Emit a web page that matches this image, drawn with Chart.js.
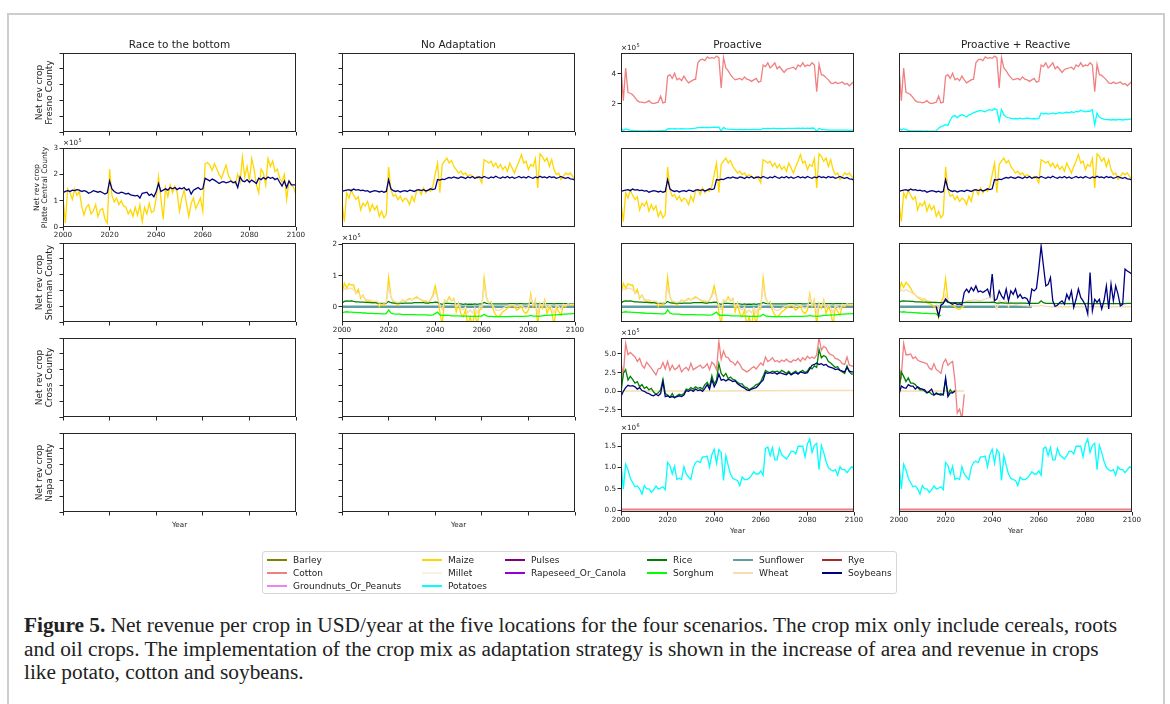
<!DOCTYPE html>
<html><head><meta charset="utf-8">
<script src="https://cdn.jsdelivr.net/npm/chart.js@4.4.1/dist/chart.umd.min.js"></script>
<style>
html,body{margin:0;padding:0;background:#fff;width:1170px;height:704px;overflow:hidden;position:relative;font-family:'DejaVu Sans',sans-serif;}
#frame{position:absolute;left:7px;top:13px;width:1158px;height:720px;border:2px solid #cdcdcd;box-sizing:border-box;}
.ctitle{position:absolute;top:37px;width:233px;text-align:center;font-size:10.5px;color:#222;line-height:14px;white-space:nowrap;}
#legend{position:absolute;left:262px;top:551px;width:635px;height:43px;border:1px solid #d6d6d6;border-radius:3px;box-sizing:border-box;}
.li{position:absolute;height:12px;font-size:9px;color:#222;line-height:12px;white-space:nowrap;}
.li i{position:absolute;left:0;top:5px;width:20px;height:2px;}
.li span{position:absolute;left:26px;top:0;}
#caption{position:absolute;left:24px;top:614px;font-family:'Liberation Serif',serif;font-size:17.5px;line-height:23.5px;color:#222;white-space:nowrap;}
canvas{position:absolute;}
</style></head><body>
<div id="frame"></div>
<div id="legend"></div>
<div id="caption"><div id="cap1"><b>Figure 5.</b> Net revenue per crop in USD/year at the five locations for the four scenarios. The crop mix only include cereals, roots</div><div>and oil crops. The implementation of the crop mix as adaptation strategy is shown in the increase of area and revenue in crops</div><div>like potato, cotton and soybeans.</div></div>
<script>
// ---------- categories / labels ----------
const SCENARIOS = ['Race to the bottom', 'No Adaptation', 'Proactive', 'Proactive + Reactive'];
const COUNTIES = ['Fresno County', 'Platte Central County', 'Sherman County', 'Cross County', 'Napa County'];
const CROPS = ['Barley','Cotton','Groundnuts_Or_Peanuts','Maize','Millet','Potatoes','Pulses','Rapeseed_Or_Canola','Rice','Sorghum','Sunflower','Wheat','Rye','Soybeans'];
const CROP_COLORS = ['#808000','#f08080','#ee82ee','#ffd700','#faf0e6','#00ffff','#800080','#9400d3','#008000','#00ff00','#5f9ea0','#f5deb3','#a52a2a','#000080'];
const X_TICKS = [2000, 2020, 2040, 2060, 2080, 2100];
const EMPTY_Y_TICKS = [0, 0.2, 0.4, 0.6, 0.8, 1.0];
const FRESNO_Y_TICKS = [2, 4], FRESNO_Y_LABELS = ['2', '4'];
const PLATTE_Y_TICKS = [0, 1, 2, 3], PLATTE_Y_LABELS = ['0', '1', '2', '3'];
const SHERMAN_Y_TICKS = [0, 1, 2], SHERMAN_Y_LABELS = ['0', '1', '2'];
const CROSS_Y_TICKS = [-2.5, 0, 2.5, 5], CROSS_Y_LABELS = ['\u22122.5', '0.0', '2.5', '5.0'];
const NAPA_Y_TICKS = [0, 0.5, 1, 1.5], NAPA_Y_LABELS = ['0.0', '0.5', '1.0', '1.5'];

// ---------- series values (yearly from start year; units x1e5 USD, Napa x1e6 USD) ----------
const FRESNO_COTTON = [4.5,2.2,4.4,2.75,2.7,2.6,2.4,2.2,2.1,2.1,
 2.05,2.1,2.2,2.05,2.0,2.05,2.1,2.5,2.05,2.1,
 3.85,3.95,3.7,4.05,3.6,3.7,3.55,3.85,3.6,3.4,
 3.5,3.6,3.65,4.75,4.95,5.0,4.9,5.15,5.05,5.1,
 5.05,5.2,5.1,3.05,5.1,4.4,4.2,3.95,3.75,3.6,
 3.65,3.7,3.6,3.8,3.65,3.6,3.5,3.6,3.7,3.45,
 3.5,4.6,4.5,4.75,4.4,4.55,4.75,4.35,4.5,4.3,
 4.1,4.3,4.35,4.4,4.45,4.3,4.6,4.5,4.75,4.5,
 4.6,4.55,4.75,4.6,2.8,4.65,3.95,3.9,3.75,3.6,
 3.4,3.35,3.45,3.35,3.4,3.45,3.3,3.35,3.2,3.35,3.5];
const FRESNO_POTATOES_PRO = [0.35,0.2,0.3,0.25,0.2,0.2,0.18,0.18,0.17,0.17,
 0.17,0.17,0.18,0.17,0.17,0.17,0.17,0.18,0.18,0.17,
 0.3,0.32,0.3,0.32,0.3,0.3,0.32,0.3,0.3,0.3,
 0.32,0.33,0.35,0.38,0.38,0.4,0.38,0.4,0.38,0.4,
 0.42,0.4,0.42,0.15,0.4,0.3,0.28,0.27,0.26,0.25,
 0.25,0.26,0.25,0.26,0.25,0.25,0.25,0.26,0.25,0.25,
 0.25,0.33,0.32,0.34,0.32,0.33,0.34,0.32,0.33,0.32,
 0.32,0.33,0.33,0.34,0.33,0.34,0.35,0.34,0.35,0.34,
 0.35,0.34,0.36,0.34,0.12,0.34,0.25,0.25,0.24,0.22,
 0.22,0.21,0.22,0.21,0.22,0.22,0.21,0.21,0.2,0.21,0.21];
const FRESNO_POTATOES_REACT = [0.35,0.22,0.3,0.25,0.2,0.18,0.17,0.17,0.16,0.16,
 0.16,0.15,0.16,0.15,0.15,0.15,0.17,0.35,0.45,0.5,
 0.6,0.52,0.9,1.15,1.2,1.05,1.2,1.25,1.2,1.1,
 1.25,1.3,1.4,1.45,1.5,1.55,1.5,1.45,1.55,1.6,
 1.55,1.65,1.6,0.8,1.6,1.25,1.1,1.05,1.0,0.98,
 1.0,0.97,1.02,0.98,1.0,1.03,1.0,0.98,1.0,0.97,
 1.0,1.37,1.3,1.35,1.3,1.32,1.38,1.32,1.35,1.4,
 1.35,1.4,1.42,1.38,1.45,1.4,1.48,1.45,1.55,1.5,
 1.45,1.5,1.48,1.6,0.58,1.37,1.1,1.0,0.95,0.92,
 0.92,0.9,0.93,0.9,0.92,0.93,0.9,0.92,0.93,0.95,0.97];

const PLATTE_MAIZE_RTB = [1.1,0.15,1.45,1.3,1.05,1.45,1.2,1.35,0.8,0.45,
 0.75,0.85,0.5,0.6,0.85,0.4,0.65,0.7,0.3,0.15,
 2.2,1.2,0.95,1.1,0.85,1.0,0.8,0.75,0.5,0.65,
 0.4,0.75,0.45,0.85,0.2,0.75,0.5,0.9,0.55,0.6,
 1.1,1.9,1.1,0.3,1.5,1.15,1.6,1.3,1.55,1.3,
 0.6,1.1,1.4,0.9,0.4,0.9,1.1,0.7,0.9,1.1,
 0.6,2.4,2.45,2.35,2.15,2.4,2.2,2.0,1.85,2.1,
 2.35,1.95,1.8,1.7,1.65,2.0,1.7,2.65,1.9,2.3,
 1.75,2.6,2.2,1.6,1.3,2.2,2.05,1.6,2.6,2.3,
 2.5,2.1,2.2,1.85,1.7,2.0,1.05,1.75,1.6,1.5,1.2];
const PLATTE_SOY_RTB = [1.3,1.35,1.38,1.35,1.4,1.38,1.42,1.4,1.35,1.38,
 1.35,1.28,1.32,1.38,1.35,1.32,1.35,1.3,1.25,1.3,
 1.75,1.45,1.35,1.3,1.28,1.32,1.3,1.25,1.28,1.22,
 1.2,1.18,1.2,1.1,1.28,1.3,1.32,1.2,1.25,1.15,
 1.35,1.65,1.35,1.4,1.45,1.4,1.5,1.45,1.5,1.42,
 1.48,1.45,1.5,1.4,1.45,1.25,1.4,1.45,1.5,1.42,
 1.45,1.85,1.8,1.75,1.82,1.78,1.72,1.65,1.7,1.72,
 1.68,1.7,1.75,1.68,1.72,1.5,1.9,1.75,1.72,1.8,
 1.7,1.78,1.72,1.65,1.85,1.8,1.88,1.82,1.9,1.85,
 1.88,1.8,1.85,1.7,1.55,1.75,1.5,1.75,1.6,1.6,1.6];
const PLATTE_MAIZE = [0.95,0.2,1.3,1.1,1.4,1.2,1.05,1.15,0.65,0.9,
 0.8,0.97,0.6,0.85,0.65,0.8,0.4,0.6,0.35,0.47,
 2.28,1.42,1.17,1.23,1.04,1.17,0.97,1.1,1.04,0.85,
 1.17,0.97,1.36,1.42,1.23,1.48,1.3,1.42,1.36,1.55,
 2.0,2.43,1.3,2.37,2.5,2.62,2.43,2.53,2.3,2.18,
 2.05,2.12,1.99,2.05,1.92,1.99,1.92,1.85,1.92,1.85,
 1.67,2.56,2.5,2.43,2.5,2.3,2.43,2.24,2.37,2.18,
 2.3,2.11,2.43,2.24,2.05,2.3,2.5,2.75,2.43,2.5,
 2.18,2.37,2.3,2.6,1.48,2.78,2.68,2.5,2.62,2.3,
 2.56,2.18,1.99,2.05,1.8,1.92,2.05,1.99,2.05,1.92,1.8];
const PLATTE_SOY = [1.35,1.38,1.4,1.42,1.38,1.44,1.4,1.42,1.38,1.4,
 1.36,1.38,1.32,1.35,1.38,1.36,1.33,1.36,1.32,1.35,
 1.8,1.45,1.38,1.35,1.38,1.33,1.36,1.38,1.35,1.4,
 1.38,1.35,1.4,1.42,1.38,1.42,1.37,1.4,1.45,1.42,
 1.45,1.8,1.78,1.82,1.8,1.85,1.88,1.86,1.9,1.87,
 1.85,1.9,1.88,1.84,1.9,1.87,1.92,1.85,1.88,1.9,
 1.86,1.92,1.88,1.85,1.9,1.87,1.93,1.88,1.85,1.9,
 1.87,1.92,1.86,1.9,1.85,1.88,1.92,1.87,1.9,1.86,
 1.92,1.88,1.85,1.9,1.87,1.93,1.88,1.9,1.86,1.92,
 1.88,1.9,1.85,1.88,1.92,1.87,1.85,1.88,1.83,1.82,1.78];

const SHERMAN_MAIZE = [0.43,0.76,0.6,0.74,0.7,0.7,0.43,0.56,0.27,0.38,
 0.22,0.16,0.19,0.11,0.13,0.16,0.0,0.11,0.05,0.11,
 0.94,0.32,0.16,0.11,0.05,0.13,0.22,0.16,0.22,0.27,
 0.22,0.27,0.32,0.27,0.22,0.16,0.19,0.11,0.22,0.38,
 0.67,0.32,-0.16,-0.6,0.22,0.16,0.32,0.19,0.27,-0.16,
 0.11,-0.22,-0.32,-0.11,-0.6,-0.32,-0.6,-0.16,-0.6,-0.11,
 -0.05,0.92,0.32,0.11,0.16,-0.11,-0.27,-0.32,-0.27,-0.16,
 -0.11,-0.05,0.0,0.05,0.0,-0.11,-0.05,0.0,-0.16,-0.22,
 -0.11,0.41,0.0,0.22,-0.6,0.11,-0.05,0.22,-0.22,0.0,
 -0.16,-0.6,0.0,-0.16,-0.27,0.05,0.0,0.11,0.05,0.05,0.05];
const SHERMAN_WHEAT = [0.45,0.6,0.55,0.6,0.58,0.55,0.45,0.45,0.32,0.35,
 0.25,0.22,0.22,0.18,0.18,0.18,0.12,0.15,0.12,0.14,
 0.65,0.3,0.2,0.16,0.14,0.16,0.2,0.18,0.2,0.24,
 0.22,0.25,0.28,0.26,0.24,0.2,0.2,0.16,0.22,0.32,
 0.5,0.3,0.05,-0.1,0.2,0.18,0.26,0.2,0.24,0.0,
 0.1,-0.05,-0.1,0.0,-0.2,-0.1,-0.2,-0.02,-0.2,0.0,
 0.0,0.7,0.28,0.12,0.14,0.0,-0.1,-0.12,-0.1,-0.05,
 0.0,0.02,0.05,0.07,0.05,0.0,0.02,0.05,-0.02,-0.05,
 0.0,0.32,0.05,0.18,-0.2,0.1,0.02,0.18,-0.05,0.05,
 -0.02,-0.2,0.05,0.0,-0.08,0.08,0.05,0.1,0.08,0.08,0.08];
const SHERMAN_RICE = [0.12,0.17,0.19,0.18,0.19,0.17,0.16,0.16,0.15,0.15,
 0.14,0.14,0.13,0.13,0.13,0.12,0.12,0.12,0.12,0.12,
 0.17,0.13,0.12,0.12,0.12,0.12,0.11,0.12,0.12,0.12,
 0.12,0.13,0.13,0.13,0.13,0.13,0.12,0.12,0.13,0.13,
 0.15,0.14,0.1,0.08,0.11,0.11,0.11,0.1,0.1,0.09,
 0.09,0.09,0.08,0.09,0.08,0.08,0.08,0.09,0.08,0.09,
 0.09,0.14,0.11,0.1,0.1,0.09,0.09,0.09,0.09,0.09,
 0.09,0.09,0.1,0.1,0.1,0.09,0.1,0.1,0.09,0.09,
 0.1,0.12,0.1,0.11,0.09,0.1,0.1,0.11,0.1,0.1,
 0.1,0.09,0.1,0.1,0.1,0.1,0.1,0.1,0.1,0.1,0.1];
const SHERMAN_SORGHUM = [-0.2,-0.17,-0.16,-0.17,-0.17,-0.18,-0.18,-0.19,-0.19,-0.2,
 -0.2,-0.21,-0.21,-0.21,-0.22,-0.22,-0.22,-0.23,-0.23,-0.22,
 -0.1,-0.2,-0.23,-0.24,-0.24,-0.24,-0.25,-0.25,-0.25,-0.25,
 -0.25,-0.25,-0.26,-0.26,-0.26,-0.26,-0.26,-0.27,-0.27,-0.26,
 -0.22,-0.17,-0.26,-0.28,-0.27,-0.28,-0.28,-0.29,-0.29,-0.29,
 -0.29,-0.3,-0.3,-0.3,-0.3,-0.31,-0.31,-0.31,-0.31,-0.3,
 -0.3,-0.24,-0.29,-0.31,-0.31,-0.32,-0.32,-0.32,-0.32,-0.32,
 -0.32,-0.32,-0.32,-0.31,-0.31,-0.31,-0.31,-0.31,-0.31,-0.3,
 -0.3,-0.28,-0.3,-0.3,-0.31,-0.3,-0.29,-0.28,-0.28,-0.27,
 -0.27,-0.26,-0.26,-0.25,-0.25,-0.24,-0.24,-0.23,-0.23,-0.22,-0.22];
const SHERMAN_MAIZE_REACT = [0.45,0.78,0.62,0.78,0.7,0.6,0.45,0.38,0.3,0.25,
 0.2,0.25,0.12,0.1,0.08,0.0,-0.05,-0.35,0.15,0.3,
 0.9,0.2,0.12,0.05,0.0,-0.07,-0.08,-0.02,0.03];
const SHERMAN_WHEAT_REACT = [0.45,0.55,0.5,0.55,0.5,0.48,0.42,0.38,0.32,0.3,
 0.25,0.26,0.2,0.18,0.16,0.12,0.1,-0.05,0.1,0.18,
 0.4,0.18,0.14,0.12,0.1,0.08,0.1,0.12,0.14,0.18,
 0.2,0.2,0.22,0.22,0.2,0.2,0.22,0.25,0.28,0.3,
 0.38,0.1,-0.08,0.2,0.12,0.15,0.18,0.0,0.15,0.1,
 0.08,0.06,0.05,0.04,0.04,0.03,0.03,0.02,0.02,0.02,
 0.02,0.05,0.02,0.01,0.01,0.0,0.0,0.0,0.0,0.0,
 0.0,0.0,0.0,0.0,0.0,0.0,0.0,0.0,0.0,0.0,
 0.0,0.0,0.0,0.0,0.0,0.0,0.0,0.0,0.0,0.0,
 0.0,0.0,0.0,0.0,0.0,0.0,0.0,0.0,0.0,0.0,0.0];
const SHERMAN_RICE_REACT = [0.15,0.18,0.19,0.18,0.18,0.17,0.17,0.16,0.16,0.16,
 0.15,0.15,0.15,0.14,0.14,0.14,0.14,0.13,0.13,0.13,
 0.2,0.14,0.13,0.13,0.13,0.13,0.13,0.13,0.13,0.14,
 0.14,0.14,0.14,0.14,0.14,0.14,0.14,0.14,0.14,0.14,
 0.15,0.14,0.12,0.12,0.13,0.12,0.12,0.12,0.12,0.12,
 0.12,0.12,0.12,0.12,0.12,0.11,0.11,0.11,0.11,0.11,
 0.12,0.19,0.13,0.11,0.11,0.11,0.11,0.1,0.1,0.1,
 0.1,0.1,0.1,0.1,0.1,0.1,0.1,0.1,0.1,0.1,
 0.1,0.11,0.1,0.1,0.1,0.1,0.1,0.1,0.1,0.1,
 0.1,0.1,0.1,0.1,0.1,0.1,0.1,0.1,0.11,0.11,0.1];
const SHERMAN_SORGHUM_REACT = [-0.15,-0.17,-0.16,-0.17,-0.18,-0.18,-0.19,-0.19,-0.2,-0.2,
 -0.21,-0.21,-0.21,-0.22,-0.22,-0.22,-0.23,-0.3,-0.28];
const SHERMAN_SOY_REACT_START = 2016;
const SHERMAN_SOY_REACT = [0.0,-0.3,0.05,0.1,
 0.25,0.16,0.12,0.08,0.12,0.08,0.09,0.06,0.46,0.57,
 0.46,0.62,0.51,0.67,0.48,0.51,0.46,0.51,0.57,0.35,
 1.05,0.19,0.25,0.51,0.35,0.25,0.57,0.19,0.51,0.4,
 0.57,0.3,0.4,0.27,0.3,0.25,0.08,0.57,0.51,0.59,
 1.21,1.95,1.31,0.67,0.72,0.94,0.19,0.01,0.05,0.14,
 0.19,0.08,0.4,0.24,0.5,-0.02,0.24,0.57,0.3,0.19,
 0.05,-0.23,1.1,-0.13,0.24,0.14,0.24,-0.07,0.2,0.67,
 -0.07,0.73,0.19,0.67,0.4,0.03,0.08,1.21,1.15,1.1,1.05];
const FULL_SPAN_YEARS = [2000, 2100];
const ZERO_FULL = [0, 0];
const SHERMAN_SUNFLOWER_REACT_YEARS = [2000, 2057];
const SHERMAN_SUNFLOWER_REACT = [0, 0];

const CROSS_COTTON = [3.76,2.2,6.4,4.9,5.2,4.9,4.6,4.0,4.4,3.5,
 3.1,3.9,3.5,3.1,2.65,2.2,3.0,3.1,3.85,3.0,
 4.0,2.8,3.5,2.9,3.1,3.5,2.6,3.0,3.2,2.8,
 3.75,2.9,3.1,3.3,3.5,3.1,3.3,3.7,2.9,3.9,
 3.6,2.9,6.7,4.3,5.4,4.6,4.5,4.0,3.9,3.5,
 4.0,3.6,3.0,2.8,2.6,2.8,3.1,3.3,3.0,3.4,
 3.8,3.5,4.6,4.0,4.2,4.5,4.0,4.1,3.9,4.2,
 4.0,4.3,4.0,3.9,4.2,4.1,4.4,4.0,4.5,4.2,
 4.7,4.4,4.6,4.4,4.9,7.2,5.5,6.0,5.8,5.2,
 4.9,4.8,4.4,4.3,4.1,3.7,3.6,4.6,3.5,3.4,3.3];
const CROSS_RICE = [-0.2,2.4,2.9,1.5,2.0,1.6,1.1,1.3,0.6,0.9,
 0.4,0.6,0.2,0.4,-0.1,-0.4,-0.2,0.2,1.6,-0.3,
 -0.5,-0.8,-0.3,-0.9,-0.6,-0.4,-0.5,-0.3,0.3,0.2,
 0.5,0.3,0.6,0.4,0.5,0.3,0.9,1.2,0.6,2.1,
 1.0,1.5,3.7,2.4,2.0,2.4,1.7,1.9,1.6,1.5,
 1.2,1.0,1.0,0.6,0.5,0.2,0.4,0.6,0.9,1.0,
 1.3,2.0,2.8,2.6,2.5,2.7,2.6,2.7,2.5,2.8,
 2.6,2.4,2.7,2.3,2.5,2.7,2.4,2.6,2.8,2.5,
 2.7,3.2,3.0,3.4,3.2,5.6,4.5,4.8,4.6,4.0,
 3.8,3.5,3.2,3.3,2.8,2.6,2.4,3.4,2.6,2.3,2.3];
const CROSS_SOY = [-0.7,0.0,0.5,0.8,0.7,0.75,0.6,0.3,0.5,0.1,
 0.0,-0.2,-0.3,-0.5,-0.6,-0.4,-0.6,-0.3,1.3,-0.7,
 -0.6,-0.8,-0.7,-0.8,-0.7,-0.6,-0.7,-0.5,0.1,0.0,
 0.2,0.0,0.3,0.1,0.2,0.0,0.4,0.9,0.3,1.6,
 0.6,1.2,2.3,1.5,1.6,1.4,1.6,1.5,1.3,1.4,
 1.0,0.8,0.6,0.4,0.2,0.1,0.3,0.4,0.5,0.8,
 1.2,1.5,2.5,2.4,2.5,2.4,2.5,2.3,2.5,2.4,
 2.3,2.2,2.5,2.2,2.4,2.5,2.3,2.6,2.5,2.4,
 2.5,3.0,3.5,3.6,3.8,3.6,3.7,3.5,3.6,3.3,
 3.2,3.1,2.9,3.0,2.8,2.7,2.6,3.2,2.7,2.6,2.6];
const CROSS_WHEAT_YEARS = [2000, 2040, 2060, 2080, 2100];
const CROSS_WHEAT = [0.05, 0.05, 0.08, 0.1, 0.1];
const CROSS_COTTON_REACT = [3.3,2.0,6.4,4.9,4.9,5.0,4.4,4.6,4.2,4.0,
 3.9,3.8,3.7,3.1,2.9,3.7,2.9,2.7,2.4,3.8,
 4.3,3.5,3.8,4.0,1.5,-2.9,-2.4,-3.7,-0.4];
const CROSS_RICE_REACT = [-0.2,2.6,2.0,1.3,1.8,1.1,1.1,0.9,0.5,0.2,
 0.2,0.0,-0.2,-0.1,-0.4,-0.5,-0.2,-0.4,-0.3,-0.5,
 1.5,-0.4,0.2,-0.2,0.1];
const CROSS_SOY_REACT = [-0.4,0.7,0.5,0.4,0.9,0.7,0.7,0.3,0.6,0.4,
 0.3,0.2,-0.2,0.0,0.3,-0.5,-0.3,-0.4,-0.5,-0.4,
 1.8,-0.7,-0.2,-0.2,0.0];
const CROSS_WHEAT_REACT_YEARS = [2000, 2028];
const CROSS_WHEAT_REACT = [0.05, 0.05];

const NAPA_POTATOES = [1.1,0.5,1.08,0.95,0.75,0.65,0.55,0.57,0.5,0.38,
 0.58,0.5,0.5,0.42,0.48,0.57,0.5,0.52,0.55,0.48,
 1.12,1.05,0.85,1.03,0.72,0.75,0.72,1.02,0.85,0.78,
 0.72,1.0,1.12,1.15,1.12,1.25,1.25,1.27,1.02,1.3,
 1.43,1.1,1.42,1.35,0.7,1.28,1.05,0.85,0.75,0.72,
 0.7,0.58,0.78,0.72,0.72,0.75,0.82,0.9,0.85,0.85,
 0.92,0.82,1.45,1.48,1.28,1.47,1.18,1.18,1.45,1.3,
 1.25,1.2,1.28,1.38,1.38,1.32,1.5,1.5,1.5,1.25,
 1.55,1.67,1.35,1.52,1.57,0.95,1.52,1.35,1.15,1.0,
 0.95,0.92,0.95,0.82,1.02,0.95,0.95,0.88,0.95,1.02,0.97];
const NAPA_COTTON = [0.02, 0.02];

// ---------- helpers ----------
const colorOf = crop => CROP_COLORS[CROPS.indexOf(crop)];
function yearly(crop, values, start, width) {
  const s = start || 2000;
  return { crop, width: width || 1.3, points: values.map((v, i) => ({ x: s + i, y: v })) };
}
function sparse(crop, years, values, width) {
  return { crop, width: width || 1.3, points: years.map((x, i) => ({ x, y: values[i] })) };
}

const Y_EMPTY = { min: 0, max: 1, ticks: EMPTY_Y_TICKS, labels: null };
const Y_FRESNO = { min: 0.09, max: 5.41, ticks: FRESNO_Y_TICKS, labels: FRESNO_Y_LABELS };
const Y_PLATTE = { min: 0, max: 3, ticks: PLATTE_Y_TICKS, labels: PLATTE_Y_LABELS };
const Y_SHERMAN = { min: -0.49, max: 2.05, ticks: SHERMAN_Y_TICKS, labels: SHERMAN_Y_LABELS };
const Y_CROSS = { min: -3.44, max: 7.14, ticks: CROSS_Y_TICKS, labels: CROSS_Y_LABELS };
const Y_NAPA = { min: -0.04, max: 1.81, ticks: NAPA_Y_TICKS, labels: NAPA_Y_LABELS };

const E = (r, c) => ({ r, c, y: Y_EMPTY, yShow: 'marks', xShow: 'marks', series: [] });
const platteNA = () => [sparse('Sunflower', FULL_SPAN_YEARS, ZERO_FULL, 1.5), yearly('Maize', PLATTE_MAIZE), yearly('Soybeans', PLATTE_SOY)];
const shermanNA = () => [sparse('Soybeans', FULL_SPAN_YEARS, ZERO_FULL, 1), sparse('Sunflower', FULL_SPAN_YEARS, ZERO_FULL, 2.4),
  yearly('Maize', SHERMAN_MAIZE), yearly('Rice', SHERMAN_RICE), yearly('Sorghum', SHERMAN_SORGHUM), yearly('Wheat', SHERMAN_WHEAT)];
const napa = () => [sparse('Cotton', FULL_SPAN_YEARS, NAPA_COTTON, 2), yearly('Potatoes', NAPA_POTATOES)];

const PANELS = [
  E(0, 0), E(0, 1),
  { r: 0, c: 2, y: Y_FRESNO, yShow: 'labels', xShow: 'none', mult: '5', series: [yearly('Cotton', FRESNO_COTTON), yearly('Potatoes', FRESNO_POTATOES_PRO)] },
  { r: 0, c: 3, y: Y_FRESNO, yShow: 'none', xShow: 'none', series: [yearly('Cotton', FRESNO_COTTON), yearly('Potatoes', FRESNO_POTATOES_REACT)] },
  { r: 1, c: 0, y: Y_PLATTE, yShow: 'labels', xShow: 'labels', mult: '5', series: [sparse('Sunflower', FULL_SPAN_YEARS, ZERO_FULL, 1.5), yearly('Maize', PLATTE_MAIZE_RTB), yearly('Soybeans', PLATTE_SOY_RTB)] },
  { r: 1, c: 1, y: Y_PLATTE, yShow: 'none', xShow: 'none', series: platteNA() },
  { r: 1, c: 2, y: Y_PLATTE, yShow: 'none', xShow: 'none', series: platteNA() },
  { r: 1, c: 3, y: Y_PLATTE, yShow: 'none', xShow: 'none', series: platteNA() },
  E(2, 0),
  { r: 2, c: 1, y: Y_SHERMAN, yShow: 'labels', xShow: 'labels', mult: '5', series: shermanNA() },
  { r: 2, c: 2, y: Y_SHERMAN, yShow: 'none', xShow: 'none', series: shermanNA() },
  { r: 2, c: 3, y: Y_SHERMAN, yShow: 'none', xShow: 'none', series: [
    sparse('Sunflower', SHERMAN_SUNFLOWER_REACT_YEARS, SHERMAN_SUNFLOWER_REACT, 2.4),
    yearly('Maize', SHERMAN_MAIZE_REACT), yearly('Sorghum', SHERMAN_SORGHUM_REACT), yearly('Wheat', SHERMAN_WHEAT_REACT),
    yearly('Rice', SHERMAN_RICE_REACT), yearly('Soybeans', SHERMAN_SOY_REACT, SHERMAN_SOY_REACT_START)] },
  E(3, 0), E(3, 1),
  { r: 3, c: 2, y: Y_CROSS, yShow: 'labels', xShow: 'none', mult: '5', series: [
    sparse('Wheat', CROSS_WHEAT_YEARS, CROSS_WHEAT, 1.5), yearly('Cotton', CROSS_COTTON), yearly('Rice', CROSS_RICE), yearly('Soybeans', CROSS_SOY)] },
  { r: 3, c: 3, y: Y_CROSS, yShow: 'none', xShow: 'none', series: [
    sparse('Wheat', CROSS_WHEAT_REACT_YEARS, CROSS_WHEAT_REACT, 1.5), yearly('Cotton', CROSS_COTTON_REACT), yearly('Rice', CROSS_RICE_REACT), yearly('Soybeans', CROSS_SOY_REACT)] },
  E(4, 0), E(4, 1),
  { r: 4, c: 2, y: Y_NAPA, yShow: 'labels', xShow: 'labels', mult: '6', series: napa() },
  { r: 4, c: 3, y: Y_NAPA, yShow: 'none', xShow: 'labels', series: napa() },
];

// ---------- layout ----------
const COL_LEFT = [63, 342, 621, 899], ROW_TOP = [53, 148, 243, 338, 433];
const PW = 233, PH = 79, TP = 14, RW = 12;
const TXT = '#222', FONT = "'DejaVu Sans', sans-serif";
Chart.defaults.font.family = FONT;
Chart.defaults.color = TXT;

const framePlugin = {
  id: 'frameBox',
  afterDraw(chart) {
    const { ctx, chartArea: a } = chart;
    ctx.save();
    ctx.strokeStyle = '#262626'; ctx.lineWidth = 1;
    ctx.strokeRect(Math.round(a.left) + 0.5, Math.round(a.top) + 0.5, Math.round(a.right - a.left) - 1, Math.round(a.bottom - a.top) - 1);
    ctx.restore();
  }
};
const multPlugin = {
  id: 'mult',
  afterDraw(chart, args, opts) {
    if (!opts || !opts.exp) return;
    const { ctx, chartArea: a } = chart;
    ctx.save();
    ctx.fillStyle = TXT; ctx.textBaseline = 'alphabetic';
    ctx.font = "7.2px 'DejaVu Sans'";
    ctx.fillText('\u00d710', a.left, a.top - 3);
    const w = ctx.measureText('\u00d710').width;
    ctx.font = "5px 'DejaVu Sans'";
    ctx.fillText(opts.exp, a.left + w + 0.3, a.top - 6.5);
    ctx.restore();
  }
};

function makePanel(p) {
  const Lw = p.c === 0 ? 63 : 40;
  const Bh = p.r === 4 ? 28 : 16;
  const W = Lw + PW + RW, H = TP + PH + Bh;
  const cv = document.createElement('canvas');
  cv.width = W; cv.height = H;
  cv.style.left = (COL_LEFT[p.c] - Lw) + 'px';
  cv.style.top = (ROW_TOP[p.r] - TP) + 'px';
  cv.style.width = W + 'px'; cv.style.height = H + 'px';
  document.body.appendChild(cv);

  const datasets = p.series.map(s => ({
    label: s.crop, data: s.points, borderColor: colorOf(s.crop), backgroundColor: colorOf(s.crop),
    borderWidth: s.width, pointRadius: 0, tension: 0, fill: false
  })).reverse();

  const smallRow = p.r === 1;
  const yTitle = p.c === 0 ? {
    display: true, text: ['Net rev crop', COUNTIES[p.r]], color: TXT,
    font: { size: smallRow ? 7.6 : 9, lineHeight: smallRow ? 1.0 : 1.11 },
    padding: { top: smallRow ? 33.2 : 34.5, bottom: 0 }
  } : { display: false };

  new Chart(cv, {
    type: 'line',
    data: { datasets },
    plugins: [framePlugin, multPlugin],
    options: {
      responsive: false, animation: false, devicePixelRatio: 1,
      layout: { padding: { top: TP, right: RW, left: 0, bottom: 0 } },
      plugins: { legend: { display: false }, tooltip: { enabled: false }, title: { display: false }, mult: { exp: p.mult || null } },
      scales: {
        x: {
          type: 'linear', min: 2000, max: 2100,
          afterFit: s => { s.height = Bh; },
          afterBuildTicks: s => { s.ticks = X_TICKS.map(v => ({ value: v })); },
          ticks: { display: p.xShow === 'labels', autoSkip: false, maxRotation: 0, padding: 0.5, font: { size: 7.2 }, color: TXT, callback: v => String(v) },
          grid: { display: p.xShow !== 'none', drawOnChartArea: false, drawTicks: true, tickLength: 3.5, tickColor: '#262626', lineWidth: 1 },
          border: { display: false },
          title: { display: p.r === 4, text: 'Year', color: TXT, font: { size: 7.2, lineHeight: 1.2 }, padding: { top: 0, bottom: p.xShow === 'labels' ? 4.2 : 10.7 } }
        },
        y: {
          type: 'linear', min: p.y.min, max: p.y.max,
          afterFit: s => { s.width = Lw; },
          afterBuildTicks: s => { s.ticks = p.y.ticks.map(v => ({ value: v })); },
          ticks: { display: p.yShow === 'labels', autoSkip: false, padding: 1.5, font: { size: 7.2 }, color: TXT,
            callback: (v, i) => (p.y.labels ? p.y.labels[i] : '') },
          grid: { display: p.yShow !== 'none', drawOnChartArea: false, drawTicks: true, tickLength: 3.5, tickColor: '#262626', lineWidth: 1 },
          border: { display: false },
          title: yTitle
        }
      }
    }
  });
}
PANELS.forEach(makePanel);

// column titles
SCENARIOS.forEach((t, c) => {
  const d = document.createElement('div');
  d.className = 'ctitle'; d.style.left = COL_LEFT[c] + 'px'; d.textContent = t;
  document.body.appendChild(d);
});

// legend (column-major, 6 columns)
const LEG_NCOL = 6, LEG_COL_X = [267, 422, 505, 647, 733, 822], LEG_ROW_Y = [560, 573, 586];
(function () {
  const n = CROPS.length, base = Math.floor(n / LEG_NCOL), extra = n % LEG_NCOL;
  let k = 0;
  for (let col = 0; col < LEG_NCOL; col++) {
    const cnt = base + (col < extra ? 1 : 0);
    for (let row = 0; row < cnt; row++, k++) {
      const d = document.createElement('div');
      d.className = 'li';
      d.style.left = LEG_COL_X[col] + 'px';
      d.style.top = (LEG_ROW_Y[row] - 6) + 'px';
      d.innerHTML = '<i style="background:' + CROP_COLORS[k] + '"></i><span>' + CROPS[k] + '</span>';
      document.body.appendChild(d);
    }
  }
})();

// fit caption first line width to the reference text block
(function () {
  const cap = document.getElementById('caption'), l1 = document.getElementById('cap1');
  const span = document.createElement('span'); span.innerHTML = l1.innerHTML; l1.innerHTML = ''; l1.appendChild(span);
  const w = span.getBoundingClientRect().width;
  const fs = 17.5 * 1093 / w;
  cap.style.fontSize = fs.toFixed(2) + 'px';
})();
</script>
</body></html>
